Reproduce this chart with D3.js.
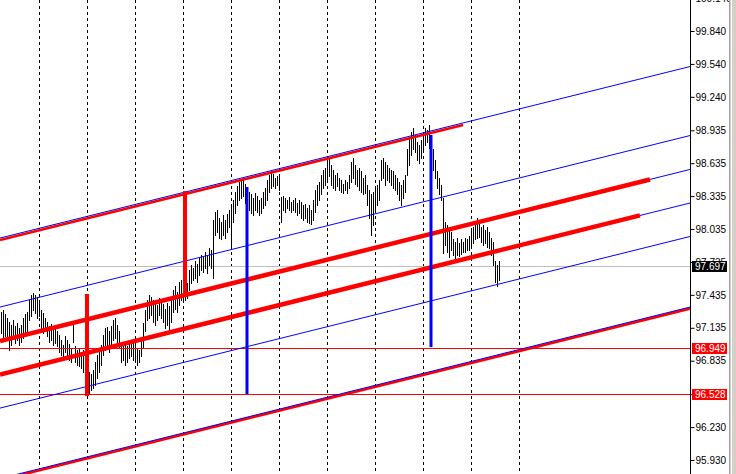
<!DOCTYPE html>
<html><head><meta charset="utf-8">
<script src="https://cdn.jsdelivr.net/npm/d3@7"></script>
<style>
body{margin:0;background:#fff;overflow:hidden}
svg{display:block}
text{font-family:"Liberation Sans",Arial,sans-serif;font-size:10px}
</style>
</head><body>
<svg id="chart" width="736" height="474"></svg>
<script>
// ---- data (H1 bars, prices) ----
const highs = [
97.28,97.30,97.26,97.22,97.19,97.16,97.21,97.15,97.18,97.13,
97.16,97.22,97.26,97.28,97.39,97.43,97.45,97.43,97.42,97.39,
97.30,97.27,97.22,97.19,97.15,97.17,97.13,97.16,97.11,97.07,
97.02,96.98,97.06,97.02,96.99,96.95,97.16,96.97,96.93,96.95,
96.91,96.93,96.91,96.80,96.73,96.71,96.75,96.82,96.89,96.95,
96.98,97.07,97.13,97.14,97.11,97.15,97.21,97.22,97.16,97.11,
97.01,96.98,97.00,96.97,96.99,97.02,97.01,96.98,96.95,96.93,
97.02,97.18,97.30,97.39,97.43,97.42,97.39,97.36,97.34,97.41,
97.39,97.35,97.31,97.36,97.33,97.39,97.48,97.52,97.46,97.55,
97.57,97.52,97.50,97.54,97.66,97.71,97.68,97.74,97.72,97.77,
97.80,97.78,97.83,97.80,97.86,97.84,98.12,98.19,98.21,98.14,
98.10,98.16,98.12,98.17,98.21,98.25,98.30,98.37,98.43,98.46,
98.48,98.50,98.45,98.41,98.37,98.35,98.32,98.36,98.34,98.30,
98.32,98.37,98.41,98.48,98.53,98.56,98.54,98.50,98.52,98.53,
98.33,98.34,98.32,98.30,98.33,98.28,98.30,98.32,98.27,98.30,
98.28,98.25,98.26,98.23,98.25,98.21,98.30,98.39,98.44,98.46,
98.53,98.57,98.59,98.66,98.69,98.62,98.57,98.53,98.55,98.50,
98.48,98.45,98.48,98.46,98.53,98.65,98.68,98.62,98.57,98.59,
98.56,98.50,98.53,98.44,98.39,98.35,98.37,98.41,98.44,98.48,
98.66,98.68,98.65,98.62,98.59,98.57,98.56,98.53,98.50,98.46,
98.44,98.48,98.53,98.76,98.86,98.92,98.96,98.89,98.83,98.80,
98.85,98.92,98.96,98.94,98.98,98.85,98.76,98.66,98.56,98.50,
98.44,98.32,98.10,98.07,98.05,98.01,97.94,97.92,97.95,97.91,
97.94,97.92,97.95,97.94,97.97,98.03,98.05,98.07,98.14,98.12,
98.05,98.07,98.03,98.05,98.01,97.95,97.92,97.74,97.71,97.74
];
const lows = [
97.09,97.04,97.06,97.02,96.93,96.98,97.04,97.00,97.02,96.98,
97.01,97.04,97.08,97.11,97.21,97.24,97.30,97.27,97.22,97.24,
97.13,97.09,97.11,97.06,97.01,97.02,96.98,97.00,96.97,96.91,
96.89,96.86,96.91,96.88,96.84,96.82,97.01,96.82,96.80,96.79,
96.77,96.73,96.68,96.55,96.53,96.57,96.59,96.61,96.68,96.73,
96.80,96.89,96.93,96.95,96.91,96.98,97.02,97.04,96.98,96.95,
96.82,96.84,96.80,96.82,96.86,96.88,96.84,96.82,96.80,96.82,
96.88,96.96,97.11,97.21,97.22,97.25,97.19,97.16,97.21,97.25,
97.22,97.19,97.13,97.16,97.11,97.19,97.28,97.31,97.28,97.34,
97.39,97.37,97.39,97.41,97.48,97.54,97.57,97.59,97.55,97.62,
97.66,97.64,97.68,97.63,97.71,97.68,97.59,97.98,98.01,97.95,
97.94,97.98,97.95,98.01,98.05,97.89,98.10,98.18,98.25,98.30,
98.32,98.34,98.27,98.25,98.21,98.18,98.16,98.21,98.19,98.16,
98.18,98.23,98.25,98.30,98.37,98.41,98.43,98.41,98.44,98.39,
98.10,98.21,98.19,98.23,98.21,98.19,98.21,98.19,98.16,98.18,
98.14,98.12,98.14,98.10,98.09,98.08,98.12,98.19,98.25,98.30,
98.35,98.41,98.44,98.48,98.52,98.44,98.41,98.39,98.43,98.39,
98.37,98.36,98.39,98.36,98.41,98.46,98.50,98.45,98.43,98.39,
98.37,98.35,98.36,98.25,98.14,97.98,98.07,98.19,98.25,98.30,
98.48,98.50,98.44,98.48,98.46,98.44,98.41,98.39,98.35,98.30,
98.25,98.32,98.37,98.53,98.62,98.71,98.76,98.74,98.66,98.64,
98.68,98.76,98.80,98.83,98.77,98.66,98.57,98.50,98.41,98.35,
98.30,97.82,97.89,97.83,97.78,97.84,97.80,97.77,97.80,97.79,
97.81,97.83,97.83,97.84,97.84,97.89,97.91,97.94,97.95,97.96,
97.92,97.89,97.91,97.87,97.86,97.80,97.71,97.55,97.52,97.57
];
const lastPrice = 97.697;
const tickLabels = ["100.140","99.840","99.540","99.240","98.935","98.635","98.335","98.035","97.735","97.435","97.135","96.835","96.530","96.230","95.930"];
const separatorBars = [19,43,67,91,115,139,163,187,211,235,259];
// equidistant blue channel: price at first and last visible bar slots
const channelBars = [-0.5, 344.5];
const channelLevels = [
  [97.953, 99.516],
  [97.324, 98.887],
  [97.014, 98.578],
  [96.709, 98.272],
  [96.403, 97.967],
  [95.761, 97.324]
];
// red trend lines: [bar0, price0, bar1, price1]
const redThinTrends = [
  [-0.5, 97.935, 231, 98.984],
  [-0.5, 95.747, 344.5, 97.310]
];
const redThickTrends = [
  [-0.5, 97.014, 324.5, 98.487],
  [-0.5, 96.709, 319.5, 98.159]
];
const redLevels = ["96.949","96.528"];
// vertical markers: [bar, topPrice, bottomPrice]
const redVerticals = [[43, 97.443, 96.513],[92, 98.381, 97.430]];
const blueVerticals = [[123, 98.418, 96.531],[215, 98.892, 96.959]];

// ---- drawing ----
const W = 736, H = 474, plotRight = 690;
const svg = d3.select("#chart");
const x = d3.scaleLinear().domain([-0.5, 344.5]).range([0, plotRight]);
const y = d3.scaleLinear().domain([99.84, 95.93]).range([31, 460]);

svg.append("rect").attr("width",W).attr("height",H).attr("fill","#fff");
svg.append("defs").append("clipPath").attr("id","plot")
  .append("rect").attr("x",0).attr("y",0).attr("width",plotRight).attr("height",H);
const g = svg.append("g").attr("clip-path","url(#plot)");

// period separators
g.selectAll("line.sep").data(separatorBars).join("line")
  .attr("x1",d=>Math.round(x(d))+0.5).attr("x2",d=>Math.round(x(d))+0.5)
  .attr("y1",0).attr("y2",H)
  .attr("stroke","#000").attr("stroke-width",1).attr("stroke-dasharray","3,3");

// bid line
g.append("line").attr("x1",0).attr("x2",plotRight)
  .attr("y1",Math.round(y(lastPrice))+0.5).attr("y2",Math.round(y(lastPrice))+0.5)
  .attr("stroke","#c0c0c0").attr("stroke-width",1);

// bars
const bars = highs.map((h,i)=>({i,h,l:lows[i]}));
g.selectAll("line.bar").data(bars).join("line")
  .attr("x1",d=>Math.round(x(d.i))+0.5).attr("x2",d=>Math.round(x(d.i))+0.5)
  .attr("y1",d=>Math.round(y(d.h))).attr("y2",d=>Math.round(y(d.l))+1)
  .attr("stroke","#000").attr("stroke-width",1);

// red horizontal levels
g.selectAll("line.lvl").data(redLevels).join("line")
  .attr("x1",0).attr("x2",plotRight)
  .attr("y1",d=>Math.round(y(+d))+0.5).attr("y2",d=>Math.round(y(+d))+0.5)
  .attr("stroke","#ff0000").attr("stroke-width",1);

// thin red trend lines (under blue)
g.selectAll("line.rt").data(redThinTrends).join("line")
  .attr("x1",d=>x(d[0])).attr("y1",d=>y(d[1]))
  .attr("x2",d=>x(d[2])).attr("y2",d=>y(d[3]))
  .attr("stroke","#ff0000").attr("stroke-width",2.6);

// blue channel lines
g.selectAll("line.ch").data(channelLevels).join("line")
  .attr("x1",x(channelBars[0])).attr("y1",d=>y(d[0]))
  .attr("x2",x(channelBars[1])).attr("y2",d=>y(d[1]))
  .attr("stroke","#0000ff").attr("stroke-width",1);

// thick red trend lines
g.selectAll("line.rk").data(redThickTrends).join("line")
  .attr("x1",d=>x(d[0])).attr("y1",d=>y(d[1]))
  .attr("x2",d=>x(d[2])).attr("y2",d=>y(d[3]))
  .attr("stroke","#ff0000").attr("stroke-width",4.5);

// verticals
g.selectAll("line.rv").data(redVerticals).join("line")
  .attr("x1",d=>x(d[0])).attr("x2",d=>x(d[0]))
  .attr("y1",d=>y(d[1])).attr("y2",d=>y(d[2]))
  .attr("stroke","#ff0000").attr("stroke-width",4);
g.selectAll("line.bv").data(blueVerticals).join("line")
  .attr("x1",d=>x(d[0])).attr("x2",d=>x(d[0]))
  .attr("y1",d=>y(d[1])).attr("y2",d=>y(d[2]))
  .attr("stroke","#0000ff").attr("stroke-width",3);

// price axis
const axis = d3.axisRight(y)
  .tickValues(tickLabels.map(Number))
  .tickFormat((d,i)=>tickLabels[i])
  .tickSize(4).tickPadding(1);
const ag = svg.append("g").attr("transform",`translate(${plotRight+0.5},0)`).call(axis);
ag.select(".domain").remove();
ag.selectAll("text").attr("font-family","Liberation Sans, Arial, sans-serif").attr("font-size",10).attr("fill","#000");
ag.selectAll("line").attr("stroke","#000");
svg.append("line").attr("x1",plotRight+0.5).attr("x2",plotRight+0.5).attr("y1",0).attr("y2",H)
  .attr("stroke","#000");

// price boxes
const boxes = [{v:lastPrice.toFixed(3), c:"#000"}].concat(redLevels.map(v=>({v, c:"#ff0000"})));
const bg = svg.selectAll("g.box").data(boxes).join("g")
  .attr("transform",d=>`translate(${plotRight+2},${Math.round(y(+d.v))-5})`);
bg.append("rect").attr("width",35).attr("height",11).attr("fill",d=>d.c);
bg.append("text").attr("x",3).attr("y",9).attr("fill","#fff").text(d=>d.v);

// window border on the right
svg.append("rect").attr("x",729).attr("y",0).attr("width",7).attr("height",H).attr("fill","#d4d0c8");
svg.append("line").attr("x1",729.5).attr("x2",729.5).attr("y1",0).attr("y2",H).attr("stroke","#a0a0a0");
svg.append("line").attr("x1",731.5).attr("x2",731.5).attr("y1",0).attr("y2",H).attr("stroke","#ffffff");
</script>
</body></html>
